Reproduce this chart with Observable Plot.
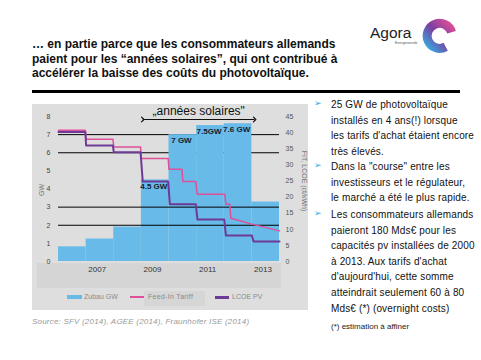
<!DOCTYPE html>
<html><head><meta charset="utf-8">
<script src="https://cdn.jsdelivr.net/npm/d3@7"></script>
<script src="https://cdn.jsdelivr.net/npm/@observablehq/plot@0.6"></script>
<style>
body{margin:0;width:481px;height:360px;position:relative;background:#fff;font-family:"Liberation Sans",Arial,sans-serif;overflow:hidden}
.abs{position:absolute}
.title{left:32px;top:37px;font-weight:bold;font-size:12px;line-height:14.5px;color:#111;white-space:nowrap}
.panel{left:32px;top:104px;width:276px;height:206px;background:#dedede}
.strip{left:37px;top:263px;width:244px;height:25px;background:#d5d5d5}
.lgbox{left:144px;top:291px;width:61px;height:15px;background:#d6d6d6}
.lg{font-size:7px;color:#8a8a8a;white-space:nowrap}
.para{left:331px;font-size:10px;line-height:15.6px;color:#111;white-space:nowrap;letter-spacing:0.15px}
.bul{left:314px;font-size:9px;color:#2aa8df;font-family:"DejaVu Sans",sans-serif}
.rot{font-size:7px;color:#777;white-space:nowrap}
</style></head><body>
<div class="abs title">… en partie parce que les consommateurs allemands<br>paient pour les “années solaires”, qui ont contribué à<br>accélérer la baisse des coûts du photovoltaïque.</div>
<svg class="abs" style="left:360px;top:10px" width="121" height="50">
  <defs><linearGradient id="g" x1="1" y1="0" x2="0" y2="1">
    <stop offset="0" stop-color="#dc4f98"/><stop offset="0.5" stop-color="#7a40a0"/><stop offset="1" stop-color="#36aae2"/>
  </linearGradient></defs>
  <text x="10" y="28" font-size="15.5" fill="#222" font-family="Liberation Sans, Arial">Agora</text>
  <text x="35" y="34" font-size="3.5" fill="#555" font-family="Liberation Sans, Arial">Energiewende</text>
  <path d="M 91.6 22.2 A 12.5 12.5 0 1 0 85.7 36.8" fill="none" stroke="url(#g)" stroke-width="9"/>
</svg>
<div class="abs" style="left:32px;top:89.5px;width:428px;height:3px;background:#000"></div>
<div class="abs panel"></div>
<div class="abs strip"></div>
<div class="abs lgbox"></div>
<div class="abs" style="left:66.7px;top:295px;width:15px;height:3.5px;background:#68bbe9"></div>
<div class="abs lg" style="left:84px;top:292.5px">Zubau GW</div>
<div class="abs" style="left:129.5px;top:296px;width:14px;height:2px;background:#e0509a"></div>
<div class="abs lg" style="left:148px;top:292.5px;letter-spacing:0.3px">Feed-In Tariff</div>
<div class="abs" style="left:215px;top:296px;width:14px;height:2.5px;background:#6e3a98"></div>
<div class="abs lg" style="left:232px;top:292.5px">LCOE PV</div>
<div class="abs rot" style="left:41px;top:190px;transform:translate(-50%,-50%) rotate(-90deg)">GW</div>
<div class="abs rot" style="left:304px;top:181px;transform:translate(-50%,-50%) rotate(90deg)">FIT, LCOE (ct/kWh)</div>
<div id="chart" class="abs" style="left:32px;top:104px"></div>
<div class="abs bul" style="top:98px">➢</div>
<div class="abs para" style="top:97px">25 GW de photovoltaïque<br>installés en 4 ans(!) lorsque<br>les tarifs d'achat étaient encore<br>très élevés.</div>
<div class="abs bul" style="top:160px">➢</div>
<div class="abs para" style="top:159px">Dans la "course" entre les<br>investisseurs et le régulateur,<br>le marché a été le plus rapide.</div>
<div class="abs bul" style="top:208px">➢</div>
<div class="abs para" style="top:207px">Les consommateurs allemands<br>paieront 180 Mds€ pour les<br>capacités pv installées de 2000<br>à 2013. Aux tarifs d'achat<br>d'aujourd'hui, cette somme<br>atteindrait seulement 60 à 80<br>Mds€ (*) (overnight costs)</div>
<div class="abs" style="left:331px;top:322px;font-size:8px;color:#222;white-space:nowrap">(*) estimation à affiner</div>
<div class="abs" style="left:32px;top:316.5px;font-size:8px;font-style:italic;color:#9a9a9a;white-space:nowrap;letter-spacing:0.2px">Source: SFV (2014), AGEE (2014), Fraunhofer ISE (2014)</div>
<script>
// Annual PV additions (GW, left axis)
const barYears = [2006, 2007, 2008, 2009, 2010, 2011, 2012, 2013];
const barGW = [0.81, 1.24, 1.9, 4.5, 7.0, 7.5, 7.6, 3.28];
const barLabelText = ["", "", "", "4.5 GW", "7 GW", "7.5GW", "7.6 GW", ""];
// Feed-in tariff (ct/kWh, right axis)
const fitT  = [2006, 2006.97, 2007.0, 2007.97, 2008.0, 2008.97, 2009.0, 2009.97, 2010.0, 2010.47, 2010.5, 2010.97, 2011.02, 2012.02, 2012.06, 2012.2, 2012.24, 2013.0, 2014];
const fitCt = [40.75, 40.75, 37.96, 37.96, 35.5, 35.5, 32.0, 32.0, 28.6, 28.6, 24.8, 24.8, 20.9, 20.9, 17.8, 17.8, 13.4, 11.6, 9.5];
// LCOE / learning curve (ct/kWh, right axis)
const lcoeT  = [2006, 2006.97, 2007.0, 2007.97, 2008.0, 2008.97, 2009.05, 2009.97, 2010.03, 2010.97, 2011.03, 2012.0, 2012.06, 2013.0, 2013.06, 2014];
const lcoeCt = [40.2, 40.2, 36.0, 36.0, 33.9, 33.9, 24.8, 24.8, 17.8, 17.8, 13.0, 13.0, 8.1, 8.1, 6.2, 6.2];
const xTickYears = [2007, 2009, 2011, 2013];
const leftTicks = [0, 1, 2, 3, 4, 5, 6, 7, 8];
const rightTicks = [0, 5, 10, 15, 20, 25, 30, 35, 40, 45];
const gridFront = [2, 3];
const gridBack = [6, 7];
const solarSpan = [2009.05, 2013.1];
const solarText = "„années solaires\"";

const K = 8 / 45; // right axis (ct/kWh) -> left axis units
const bars = barYears.map((y, i) => ({x1: y, x2: y + 1, gw: barGW[i], label: barLabelText[i]}));
const fit = fitT.map((t, i) => ({t, v: fitCt[i] * K}));
const lcoe = lcoeT.map((t, i) => ({t, v: lcoeCt[i] * K}));

const chart = Plot.plot({
  width: 276, height: 186,
  marginLeft: 26, marginRight: 29, marginTop: 12, marginBottom: 29,
  style: {background: "transparent", fontFamily: "Liberation Sans, Arial, sans-serif", color: "#333", overflow: "visible"},
  x: {domain: [2006, 2014]},
  y: {domain: [0, 8]},
  marks: [
    Plot.ruleY(gridBack, {stroke: "#000", strokeWidth: 1}),
    Plot.rectY(bars, {x1: "x1", x2: "x2", y: "gw", fill: "#68bbe9"}),
    Plot.ruleY(gridFront, {stroke: "#000", strokeWidth: 1}),
    Plot.line(fit, {x: "t", y: "v", stroke: "#e0509a", strokeWidth: 1.5}),
    Plot.line(lcoe, {x: "t", y: "v", stroke: "#6e3a98", strokeWidth: 2}),
    Plot.text(bars.filter(d => d.label), {x: d => d.x1 + 0.45, y: "gw", text: "label", lineAnchor: "top", dy: 3, fontSize: 8, fontWeight: "bold", fill: "#1a1a2a"}),
    Plot.link([solarSpan], {x1: d => d[0], x2: d => d[1], y1: 8, y2: 8, dy: 3, stroke: "#111", strokeWidth: 1.2, markerStart: "arrow", markerEnd: "arrow"}),
    Plot.text([solarText], {x: (solarSpan[0] + solarSpan[1]) / 2, y: 8, dy: -5, text: d => d, fontSize: 12, fill: "#111"}),
    Plot.axisX({ticks: xTickYears.map(y => y + 0.4), tickFormat: d => String(Math.floor(d)), tickSize: 0, tickPadding: 5, fontSize: 8, fill: "#333"}),
    Plot.axisY({anchor: "left", ticks: leftTicks, tickSize: 0, tickPadding: 8, fontSize: 7, fill: "#444", label: null}),
    Plot.axisY({anchor: "right", ticks: rightTicks.map(v => v * K), tickFormat: d => String(Math.round(d / K)), tickSize: 0, tickPadding: 6, fontSize: 7, fill: "#555", label: null})
  ]
});
document.getElementById("chart").appendChild(chart);
</script>
</body></html>
